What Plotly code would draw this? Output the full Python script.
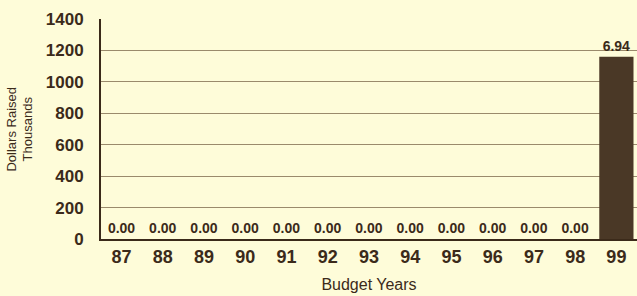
import plotly.graph_objects as go

years = ["87", "88", "89", "90", "91", "92", "93", "94", "95", "96", "97", "98", "99"]
dollars_raised = [0, 0, 0, 0, 0, 0, 0, 0, 0, 0, 0, 0, 1160]
value_labels = ["0.00", "0.00", "0.00", "0.00", "0.00", "0.00", "0.00", "0.00", "0.00", "0.00", "0.00", "0.00", "6.94"]
y_ticks = [0, 200, 400, 600, 800, 1000, 1200, 1400]

ink = "#3b2a1a"
bg = "#fefcd9"

fig = go.Figure(go.Bar(
    x=years, y=dollars_raised,
    text=value_labels, textposition="outside", cliponaxis=False,
    textfont=dict(family="Liberation Sans, Arial", size=14, color=ink, weight="bold"),
    marker=dict(color="#4a3826", line=dict(width=0)),
    width=0.83,
))

fig.update_layout(
    width=637, height=296,
    margin=dict(l=101, r=0, t=19, b=57),
    paper_bgcolor=bg, plot_bgcolor=bg,
    showlegend=False,
    font=dict(family="Liberation Sans, Arial", color=ink),
    xaxis=dict(
        type="category", showgrid=False, ticks="",
        tickfont=dict(size=18, weight="bold", color=ink),
        showline=True, linecolor=ink, linewidth=2,
        title=dict(text="Budget Years", font=dict(size=16, color=ink), standoff=13),
    ),
    yaxis=dict(
        range=[0, 1400], tickvals=y_ticks, ticks="",
        tickfont=dict(size=17, weight="bold", color=ink),
        showgrid=True, gridcolor="#9a8a6c", gridwidth=1,
        showline=True, linecolor=ink, linewidth=2,
        zeroline=False, ticklabelstandoff=12,
    ),
    annotations=[dict(
        text="Dollars Raised<br>Thousands", xref="paper", yref="paper",
        x=-0.152, y=0.5, xanchor="center", yanchor="middle",
        textangle=-90, showarrow=False,
        font=dict(size=13, color=ink),
    )],
)

fig.write_html("out.html", config={"displayModeBar": False},
               post_script="document.body.style.margin='0';")
